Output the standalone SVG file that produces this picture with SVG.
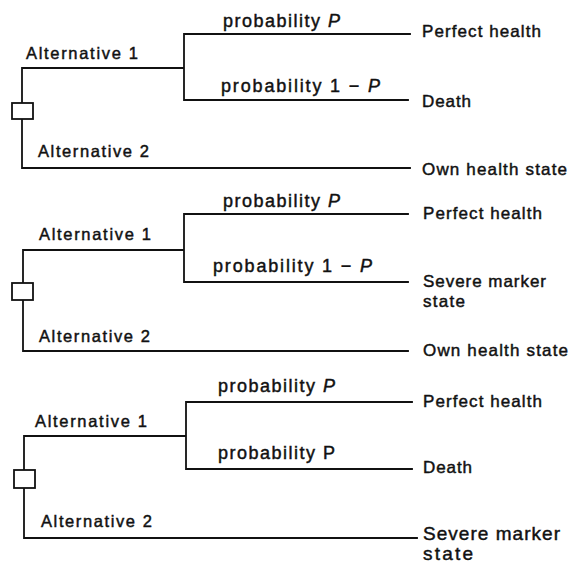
<svg xmlns="http://www.w3.org/2000/svg" width="573" height="563" viewBox="0 0 573 563">
<style>
.ln{stroke:#111;stroke-width:1.8;fill:none;stroke-linecap:square}
.bx{stroke:#111;stroke-width:1.8;fill:#fff}
text{font-family:"Liberation Sans",Arial,sans-serif;fill:#111;stroke:#111;stroke-width:0.45}
.alt{font-size:16.5px}
.pr{font-size:18px}
.out{font-size:17px}
.big{font-size:19px}
</style>
<rect width="573" height="563" fill="#fff"/>
<g id="connectors">
<path class="ln" d="M22,103 V68 H184 M184,34 V100 M184,34 H410 M184,100 H408 M22,119 V168 H410"/>
<path class="ln" d="M23,283 V250 H184 M184,214 V282 M184,214 H408 M184,282 H408 M23,300 V351 H408"/>
<path class="ln" d="M24,470 V436 H186 M186,402 V469 M186,402 H412 M186,469 H412 M24,488 V538 H417"/>
</g>
<g id="tree1">
<rect class="bx" x="12" y="103" width="21" height="16"/>
<text class="alt" x="26" y="59" textLength="112" lengthAdjust="spacing">Alternative 1</text>
<text class="alt" x="38" y="157" textLength="111" lengthAdjust="spacing">Alternative 2</text>
<text class="pr" x="223" y="27" textLength="117" lengthAdjust="spacing">probability <tspan font-style="italic">P</tspan></text>
<text class="pr" x="221" y="92" textLength="159" lengthAdjust="spacing">probability 1 − <tspan font-style="italic">P</tspan></text>
<text class="out" x="422" y="37" textLength="119" lengthAdjust="spacing">Perfect health</text>
<text class="out" x="422" y="107" textLength="49" lengthAdjust="spacing">Death</text>
<text class="out" x="422" y="175" textLength="145" lengthAdjust="spacing">Own health state</text>
</g>
<g id="tree2">
<rect class="bx" x="12" y="283" width="21" height="17"/>
<text class="alt" x="39" y="240" textLength="112" lengthAdjust="spacing">Alternative 1</text>
<text class="alt" x="39" y="342" textLength="111" lengthAdjust="spacing">Alternative 2</text>
<text class="pr" x="223" y="207" textLength="117" lengthAdjust="spacing">probability <tspan font-style="italic">P</tspan></text>
<text class="pr" x="213" y="272" textLength="159" lengthAdjust="spacing">probability 1 − <tspan font-style="italic">P</tspan></text>
<text class="out" x="423" y="219" textLength="119" lengthAdjust="spacing">Perfect health</text>
<text class="out" x="423" y="287" textLength="123" lengthAdjust="spacing">Severe marker</text>
<text class="out" x="423" y="307" textLength="42" lengthAdjust="spacing">state</text>
<text class="out" x="423" y="356" textLength="145" lengthAdjust="spacing">Own health state</text>
</g>
<g id="tree3">
<rect class="bx" x="14" y="470" width="21" height="18"/>
<text class="alt" x="35" y="427" textLength="112" lengthAdjust="spacing">Alternative 1</text>
<text class="alt" x="41" y="527" textLength="111" lengthAdjust="spacing">Alternative 2</text>
<text class="pr" x="218" y="392" textLength="117" lengthAdjust="spacing">probability <tspan font-style="italic">P</tspan></text>
<text class="pr" x="218" y="459" textLength="117" lengthAdjust="spacing">probability P</text>
<text class="out" x="423" y="407" textLength="119" lengthAdjust="spacing">Perfect health</text>
<text class="out" x="423" y="473" textLength="49" lengthAdjust="spacing">Death</text>
<text class="big" x="423" y="540" textLength="137" lengthAdjust="spacing">Severe marker</text>
<text class="big" x="423" y="560" textLength="50" lengthAdjust="spacing">state</text>
</g>
</svg>
